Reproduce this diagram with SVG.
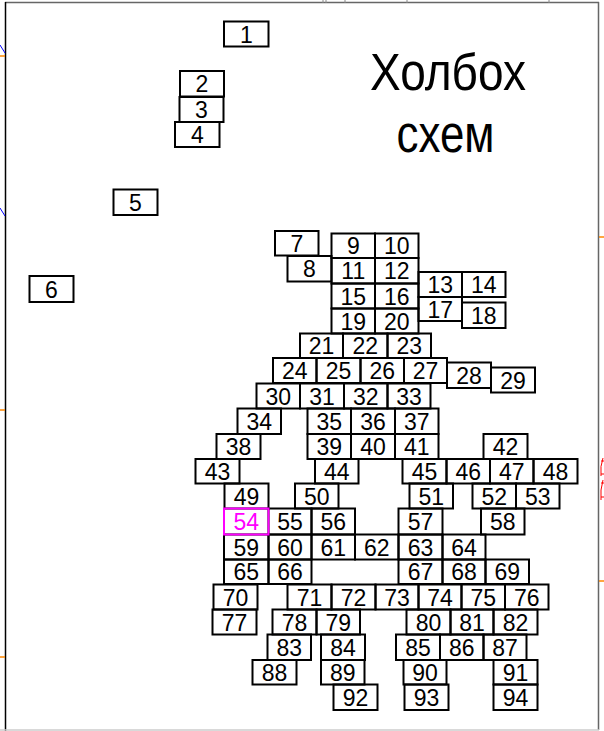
<svg xmlns="http://www.w3.org/2000/svg" width="604" height="731" viewBox="0 0 604 731">
<defs>
<style>
.b{fill:none;stroke:#000;stroke-width:2}
.m{fill:none;stroke:#f0f;stroke-width:2}
.t{font-family:"Liberation Sans",Arial,sans-serif;font-size:23px;text-anchor:middle;fill:#000}
.tm{font-family:"Liberation Sans",Arial,sans-serif;font-size:23px;text-anchor:middle;fill:#f0f}
.ttl{font-family:"Liberation Sans",Arial,sans-serif;font-size:51px;text-anchor:middle;fill:#000}
.fr{fill:none;stroke:#666;stroke-width:1.5}
</style>
</defs>
<rect width="604" height="731" fill="#fff"/>
<g id="frame">
<line x1="5" y1="2.5" x2="599" y2="2.5" class="fr"/>
<line x1="5.5" y1="2" x2="5.5" y2="731" stroke="#000" stroke-width="1.5"/>
<line x1="598.5" y1="2" x2="598.5" y2="730" class="fr"/>
<line x1="0" y1="730" x2="599" y2="730" stroke="#ccc" stroke-width="1.5"/>
<path d="M323 0V3M326 0V3M345 0V3M407 0V3M549 0V3" stroke="#888" stroke-width="1"/>
<path d="M0 45L5 53M0 208L5 216" stroke="#00f" stroke-width="1" fill="none"/>
<path d="M0 56H5M0 410H5M0 657H5M599 237H604M599 581H604" stroke="#f80" stroke-width="1.5" fill="none"/>
<path d="M603 458Q600 466 601 476M601 461H604M601 474H604M603 480Q600 490 601 500M601 483H604M601 497H604" stroke="#f00" stroke-width="1" fill="none"/>
</g>
<g id="title">
<text class="ttl" x="448" y="90" textLength="156" lengthAdjust="spacingAndGlyphs">Холбох</text>
<text class="ttl" x="445.5" y="151.7" textLength="98" lengthAdjust="spacingAndGlyphs">схем</text>
</g>
<g id="n1"><rect class="b" x="224" y="21.5" width="44.5" height="25"/><text class="t" x="246.3" y="42.5">1</text></g>
<g id="n2"><rect class="b" x="180" y="71" width="44" height="25.5"/><text class="t" x="202" y="92.2">2</text></g>
<g id="n3"><rect class="b" x="179.5" y="97" width="44" height="25"/><text class="t" x="201.5" y="118">3</text></g>
<g id="n4"><rect class="b" x="175" y="122" width="44.5" height="25"/><text class="t" x="197.3" y="143">4</text></g>
<g id="n5"><rect class="b" x="113.5" y="189.5" width="44" height="25.5"/><text class="t" x="135.5" y="210.8">5</text></g>
<g id="n6"><rect class="b" x="29.5" y="276" width="44" height="26"/><text class="t" x="51.5" y="297.5">6</text></g>
<g id="n7"><rect class="b" x="275" y="231" width="43.5" height="24.5"/><text class="t" x="296.8" y="251.8">7</text></g>
<g id="n8"><rect class="b" x="287.5" y="256" width="44" height="25.5"/><text class="t" x="309.5" y="277.3">8</text></g>
<g id="n9"><rect class="b" x="331.5" y="233.5" width="43.5" height="24.5"/><text class="t" x="353.3" y="254.3">9</text></g>
<g id="n10"><rect class="b" x="375" y="233.5" width="43.5" height="24.5"/><text class="t" x="396.8" y="254.3">10</text></g>
<g id="n11"><rect class="b" x="331.5" y="258" width="43.5" height="25.5"/><text class="t" x="353.3" y="279.3">11</text></g>
<g id="n12"><rect class="b" x="375" y="258" width="43.5" height="25.5"/><text class="t" x="396.8" y="279.3">12</text></g>
<g id="n13"><rect class="b" x="418.5" y="272" width="43.5" height="25"/><text class="t" x="440.3" y="293">13</text></g>
<g id="n14"><rect class="b" x="462" y="272" width="43.5" height="25"/><text class="t" x="483.8" y="293">14</text></g>
<g id="n15"><rect class="b" x="331.5" y="283.5" width="43.5" height="25"/><text class="t" x="353.3" y="304.5">15</text></g>
<g id="n16"><rect class="b" x="375" y="283.5" width="43.5" height="25"/><text class="t" x="396.8" y="304.5">16</text></g>
<g id="n17"><rect class="b" x="418.5" y="297" width="43.5" height="24"/><text class="t" x="440.3" y="317.5">17</text></g>
<g id="n18"><rect class="b" x="462" y="302.5" width="43.5" height="25.5"/><text class="t" x="483.8" y="323.8">18</text></g>
<g id="n19"><rect class="b" x="331.5" y="308.5" width="43.5" height="25"/><text class="t" x="353.3" y="329.5">19</text></g>
<g id="n20"><rect class="b" x="375" y="308.5" width="43.5" height="25"/><text class="t" x="396.8" y="329.5">20</text></g>
<g id="n21"><rect class="b" x="300" y="333.5" width="43" height="24.5"/><text class="t" x="321.5" y="354.3">21</text></g>
<g id="n22"><rect class="b" x="343" y="333.5" width="44.5" height="24.5"/><text class="t" x="365.3" y="354.3">22</text></g>
<g id="n23"><rect class="b" x="387.5" y="333.5" width="43.5" height="24.5"/><text class="t" x="409.3" y="354.3">23</text></g>
<g id="n24"><rect class="b" x="273" y="358" width="43.5" height="25"/><text class="t" x="294.8" y="379">24</text></g>
<g id="n25"><rect class="b" x="316.5" y="358" width="44" height="25"/><text class="t" x="338.5" y="379">25</text></g>
<g id="n26"><rect class="b" x="360.5" y="358" width="43.5" height="25"/><text class="t" x="382.3" y="379">26</text></g>
<g id="n27"><rect class="b" x="404" y="358" width="43" height="25"/><text class="t" x="425.5" y="379">27</text></g>
<g id="n28"><rect class="b" x="447" y="362.5" width="44" height="25.5"/><text class="t" x="469" y="383.8">28</text></g>
<g id="n29"><rect class="b" x="491" y="367.5" width="44" height="25"/><text class="t" x="513" y="388.5">29</text></g>
<g id="n30"><rect class="b" x="256.5" y="383.5" width="43.5" height="25"/><text class="t" x="278.3" y="404.5">30</text></g>
<g id="n31"><rect class="b" x="300" y="383.5" width="44" height="25"/><text class="t" x="322" y="404.5">31</text></g>
<g id="n32"><rect class="b" x="344" y="383.5" width="43.5" height="25"/><text class="t" x="365.8" y="404.5">32</text></g>
<g id="n33"><rect class="b" x="387.5" y="383.5" width="43" height="25"/><text class="t" x="409" y="404.5">33</text></g>
<g id="n34"><rect class="b" x="237.5" y="408.5" width="43.5" height="25.5"/><text class="t" x="259.3" y="429.8">34</text></g>
<g id="n35"><rect class="b" x="307.5" y="408.5" width="43.5" height="25.5"/><text class="t" x="329.3" y="429.8">35</text></g>
<g id="n36"><rect class="b" x="351" y="408.5" width="44" height="25.5"/><text class="t" x="373" y="429.8">36</text></g>
<g id="n37"><rect class="b" x="395" y="408.5" width="43.5" height="25.5"/><text class="t" x="416.8" y="429.8">37</text></g>
<g id="n38"><rect class="b" x="216.5" y="434" width="44" height="25"/><text class="t" x="238.5" y="455">38</text></g>
<g id="n39"><rect class="b" x="307.5" y="434" width="43.5" height="25"/><text class="t" x="329.3" y="455">39</text></g>
<g id="n40"><rect class="b" x="351" y="434" width="44" height="25"/><text class="t" x="373" y="455">40</text></g>
<g id="n41"><rect class="b" x="395" y="434" width="43.5" height="25"/><text class="t" x="416.8" y="455">41</text></g>
<g id="n42"><rect class="b" x="483.5" y="434" width="44" height="25"/><text class="t" x="505.5" y="455">42</text></g>
<g id="n43"><rect class="b" x="195.5" y="459" width="44" height="24.5"/><text class="t" x="217.5" y="479.8">43</text></g>
<g id="n44"><rect class="b" x="315" y="459" width="43.5" height="24.5"/><text class="t" x="336.8" y="479.8">44</text></g>
<g id="n45"><rect class="b" x="402.5" y="459" width="44" height="24.5"/><text class="t" x="424.5" y="479.8">45</text></g>
<g id="n46"><rect class="b" x="446.5" y="459" width="43.5" height="24.5"/><text class="t" x="468.3" y="479.8">46</text></g>
<g id="n47"><rect class="b" x="490" y="459" width="43.5" height="24.5"/><text class="t" x="511.8" y="479.8">47</text></g>
<g id="n48"><rect class="b" x="533.5" y="459" width="44" height="24.5"/><text class="t" x="555.5" y="479.8">48</text></g>
<g id="n49"><rect class="b" x="224.5" y="483.5" width="44" height="25"/><text class="t" x="246.5" y="504.5">49</text></g>
<g id="n50"><rect class="b" x="295" y="483.5" width="43.5" height="25"/><text class="t" x="316.8" y="504.5">50</text></g>
<g id="n51"><rect class="b" x="409.5" y="483.5" width="43.5" height="25"/><text class="t" x="431.3" y="504.5">51</text></g>
<g id="n52"><rect class="b" x="472.5" y="483.5" width="43.5" height="25"/><text class="t" x="494.3" y="504.5">52</text></g>
<g id="n53"><rect class="b" x="516" y="483.5" width="43.5" height="25"/><text class="t" x="537.8" y="504.5">53</text></g>
<g id="n55"><rect class="b" x="268.5" y="508.5" width="43" height="26"/><text class="t" x="290" y="530">55</text></g>
<g id="n56"><rect class="b" x="311.5" y="508.5" width="43.5" height="26"/><text class="t" x="333.3" y="530">56</text></g>
<g id="n57"><rect class="b" x="398.5" y="508.5" width="44" height="26"/><text class="t" x="420.5" y="530">57</text></g>
<g id="n58"><rect class="b" x="481" y="508.5" width="43.5" height="26"/><text class="t" x="502.8" y="530">58</text></g>
<g id="n59"><rect class="b" x="224" y="534.5" width="44.5" height="25"/><text class="t" x="246.3" y="555.5">59</text></g>
<g id="n60"><rect class="b" x="268.5" y="534.5" width="43" height="25"/><text class="t" x="290" y="555.5">60</text></g>
<g id="n61"><rect class="b" x="311.5" y="534.5" width="43.5" height="25"/><text class="t" x="333.3" y="555.5">61</text></g>
<g id="n62"><rect class="b" x="355" y="534.5" width="43.5" height="25"/><text class="t" x="376.8" y="555.5">62</text></g>
<g id="n63"><rect class="b" x="398.5" y="534.5" width="44" height="25"/><text class="t" x="420.5" y="555.5">63</text></g>
<g id="n64"><rect class="b" x="442.5" y="534.5" width="43" height="25"/><text class="t" x="464" y="555.5">64</text></g>
<g id="n65"><rect class="b" x="224" y="559.5" width="44.5" height="24.5"/><text class="t" x="246.3" y="580.3">65</text></g>
<g id="n66"><rect class="b" x="268.5" y="559.5" width="43" height="24.5"/><text class="t" x="290" y="580.3">66</text></g>
<g id="n67"><rect class="b" x="398.5" y="559.5" width="44" height="24.5"/><text class="t" x="420.5" y="580.3">67</text></g>
<g id="n68"><rect class="b" x="442.5" y="559.5" width="43" height="24.5"/><text class="t" x="464" y="580.3">68</text></g>
<g id="n69"><rect class="b" x="485.5" y="559.5" width="43.5" height="24.5"/><text class="t" x="507.3" y="580.3">69</text></g>
<g id="n70"><rect class="b" x="213.5" y="584.5" width="44" height="25"/><text class="t" x="235.5" y="605.5">70</text></g>
<g id="n71"><rect class="b" x="287.5" y="584.5" width="44" height="25"/><text class="t" x="309.5" y="605.5">71</text></g>
<g id="n72"><rect class="b" x="331.5" y="584.5" width="44" height="25"/><text class="t" x="353.5" y="605.5">72</text></g>
<g id="n73"><rect class="b" x="375.5" y="584.5" width="43" height="25"/><text class="t" x="397" y="605.5">73</text></g>
<g id="n74"><rect class="b" x="418.5" y="584.5" width="43" height="25"/><text class="t" x="440" y="605.5">74</text></g>
<g id="n75"><rect class="b" x="461.5" y="584.5" width="43.5" height="25"/><text class="t" x="483.3" y="605.5">75</text></g>
<g id="n76"><rect class="b" x="505" y="584.5" width="43.5" height="25"/><text class="t" x="526.8" y="605.5">76</text></g>
<g id="n77"><rect class="b" x="212.5" y="609.5" width="44" height="25"/><text class="t" x="234.5" y="630.5">77</text></g>
<g id="n78"><rect class="b" x="272.5" y="609.5" width="44" height="25"/><text class="t" x="294.5" y="630.5">78</text></g>
<g id="n79"><rect class="b" x="316.5" y="609.5" width="43.5" height="25"/><text class="t" x="338.3" y="630.5">79</text></g>
<g id="n80"><rect class="b" x="406.5" y="609.5" width="44" height="25"/><text class="t" x="428.5" y="630.5">80</text></g>
<g id="n81"><rect class="b" x="450.5" y="609.5" width="43" height="25"/><text class="t" x="472" y="630.5">81</text></g>
<g id="n82"><rect class="b" x="493.5" y="609.5" width="44" height="25"/><text class="t" x="515.5" y="630.5">82</text></g>
<g id="n83"><rect class="b" x="267.5" y="634.5" width="43.5" height="25.5"/><text class="t" x="289.3" y="655.8">83</text></g>
<g id="n84"><rect class="b" x="321" y="634.5" width="44" height="25.5"/><text class="t" x="343" y="655.8">84</text></g>
<g id="n85"><rect class="b" x="396" y="634.5" width="44" height="25.5"/><text class="t" x="418" y="655.8">85</text></g>
<g id="n86"><rect class="b" x="440" y="634.5" width="43.5" height="25.5"/><text class="t" x="461.8" y="655.8">86</text></g>
<g id="n87"><rect class="b" x="483.5" y="634.5" width="43" height="25.5"/><text class="t" x="505" y="655.8">87</text></g>
<g id="n88"><rect class="b" x="252.5" y="660" width="44" height="24.5"/><text class="t" x="274.5" y="680.8">88</text></g>
<g id="n89"><rect class="b" x="321" y="660" width="43.5" height="24.5"/><text class="t" x="342.8" y="680.8">89</text></g>
<g id="n90"><rect class="b" x="403.5" y="660" width="43" height="24.5"/><text class="t" x="425" y="680.8">90</text></g>
<g id="n91"><rect class="b" x="493.5" y="660" width="44" height="24.5"/><text class="t" x="515.5" y="680.8">91</text></g>
<g id="n92"><rect class="b" x="333.5" y="684.5" width="44" height="25.5"/><text class="t" x="355.5" y="705.8">92</text></g>
<g id="n93"><rect class="b" x="404.5" y="684.5" width="44" height="25.5"/><text class="t" x="426.5" y="705.8">93</text></g>
<g id="n94"><rect class="b" x="493.5" y="684.5" width="44" height="25.5"/><text class="t" x="515.5" y="705.8">94</text></g>
<g id="n54"><rect class="m" x="224" y="508.5" width="44.5" height="26"/><text class="tm" x="246.3" y="530">54</text></g>
</svg>
